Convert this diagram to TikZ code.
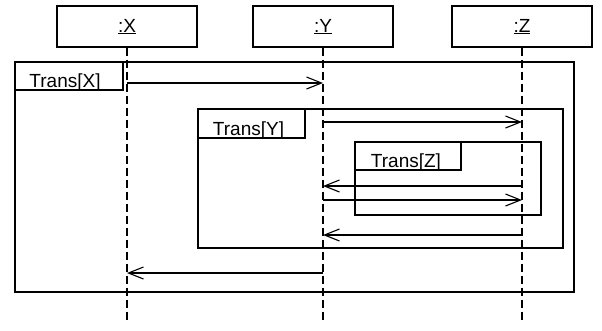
\documentclass[tikz,border=0pt]{standalone}
\usepackage{fontspec}
\setmainfont{Liberation Sans}
\usetikzlibrary{arrows.meta}
\begin{document}
\begin{tikzpicture}[x=1pt,y=-1pt,
  every node/.style={font=\fontsize{19}{22}\selectfont},
  objbox/.style={draw,line width=1.2pt,minimum width=140pt,minimum height=41pt,inner sep=0pt},
  lifeline/.style={line width=1.2pt,dash pattern=on 8pt off 4pt},
  framebox/.style={draw,line width=1.2pt},
  tablabel/.style={anchor=base,inner sep=0pt},
  msg/.style={line width=1.1pt,-{Straight Barb[length=15pt,width=12pt,line width=1.1pt]}}
]
\useasboundingbox (0,0) rectangle (602,330);
% objects
\node[objbox] (X) at (127,26.5) {\underline{:X}};
\node[objbox] (Y) at (323,26.5) {\underline{:Y}};
\node[objbox] (Z) at (522,26.5) {\underline{:Z}};
\coordinate (bot) at (0,323);
\draw[lifeline] (X.south) -- (X.south |- bot);
\draw[lifeline] (Y.south) -- (Y.south |- bot);
\draw[lifeline] (Z.south) -- (Z.south |- bot);
% frames
\draw[framebox] (15,62) rectangle (574,292);
\draw[framebox] (15,62) rectangle (123,90);
\node[tablabel] (LX) at (65,87) {Trans[X]};
\draw[framebox] (198,109) rectangle (563,248);
\draw[framebox] (198,109) rectangle (305,138);
\node[tablabel] (LY) at (248.5,135) {Trans[Y]};
\draw[framebox] (355,142) rectangle (541,215);
\draw[framebox] (355,142) rectangle (461,170);
\node[tablabel] (LZ) at (406,167) {Trans[Z]};
% messages
\coordinate (m1) at (0,83);
\coordinate (m2) at (0,122);
\coordinate (m3) at (0,186);
\coordinate (m4) at (0,200);
\coordinate (m5) at (0,235);
\coordinate (m6) at (0,273);
\draw[msg] (X.south |- m1) -- (Y.south |- m1);
\draw[msg] (Y.south |- m2) -- (Z.south |- m2);
\draw[msg] (Z.south |- m3) -- (Y.south |- m3);
\draw[msg] (Y.south |- m4) -- (Z.south |- m4);
\draw[msg] (Z.south |- m5) -- (Y.south |- m5);
\draw[msg] (Y.south |- m6) -- (X.south |- m6);
\end{tikzpicture}
\end{document}
